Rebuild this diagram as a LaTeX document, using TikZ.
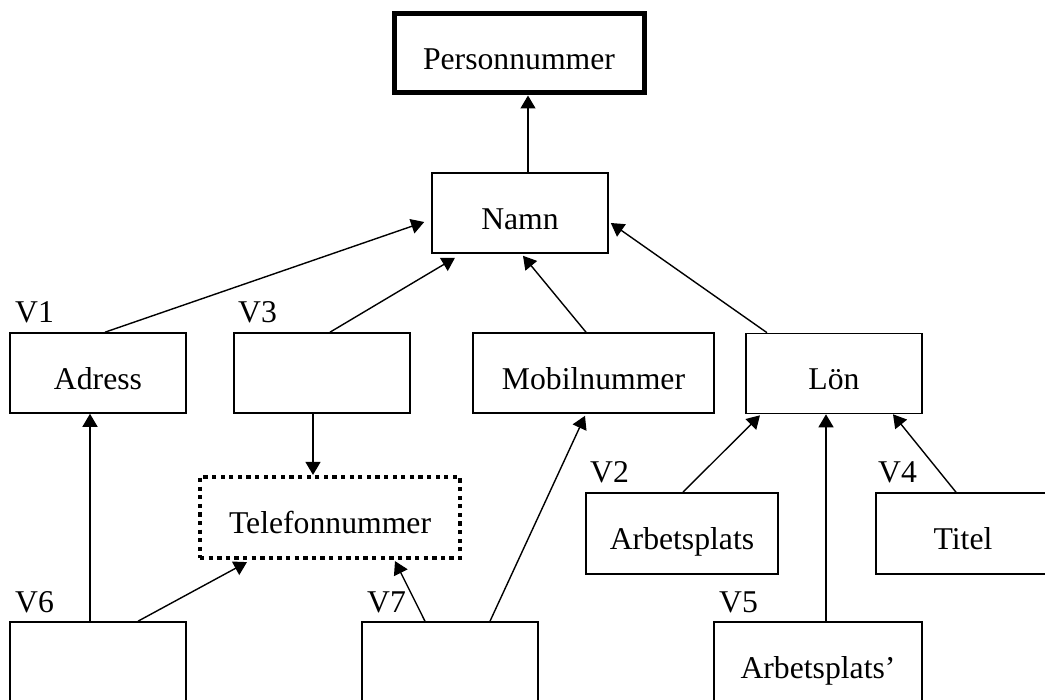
\documentclass[tikz,border=0pt]{standalone}
\usepackage{fontspec}
\setmainfont{Liberation Serif}
\usetikzlibrary{arrows.meta}
\begin{document}
\begin{tikzpicture}[x=1pt,y=-1pt,
  every node/.style={font=\fontsize{31.7}{38}\selectfont},
  box/.style={draw,line width=1.6pt,inner sep=0pt,text height=33pt,text depth=0pt,
    minimum height=80pt},
  keybox/.style={box,line width=5pt},
  dotbox/.style={box,line width=4.2pt,dash pattern=on 4.3pt off 4.3pt},
  vlabel/.style={anchor=base west,inner sep=0pt},
  arr/.style={line width=1.4pt,-{Triangle[length=13pt,width=15pt]}}]
\useasboundingbox (0,0) rectangle (1045,700);
\fill[white] (0,0) rectangle (1045,700);
\clip (0,0) rectangle (1045,700);

% attribute boxes
\node[keybox,minimum width=250pt,minimum height=79pt] (pnr) at (519,53.5) {Personnummer};
\node[box,minimum width=176pt] (namn) at (520,213) {Namn};
\node[box,minimum width=176pt] (adress) at (98,373) {Adress};
\node[box,minimum width=176pt] (v3) at (322,373) {};
\node[box,minimum width=241pt] (mobil) at (593.5,373) {Mobilnummer};
\node[box,minimum width=176pt] (lon) at (834,373.5) {Lön};
\node[dotbox,minimum width=260pt,minimum height=81pt] (tel) at (330,517.5) {Telefonnummer};
\node[box,minimum width=192pt,minimum height=81pt] (arb) at (682,533.5) {Arbetsplats};
\node[box,minimum width=174pt,minimum height=81pt] (titel) at (963,533.5) {Titel};
\node[box,minimum width=176pt] (v6) at (98,662) {};
\node[box,minimum width=176pt] (v7) at (450,662) {};
\node[box,minimum width=208pt] (arbp) at (818,662) {Arbetsplats’};

% labels
\node[vlabel] (l1) at (15,323) {V1};
\node[vlabel] (l3) at (238,323) {V3};
\node[vlabel] (l2) at (590,483) {V2};
\node[vlabel] (l4) at (878,483) {V4};
\node[vlabel] (l5) at (719,612) {V5};
\node[vlabel] (l6) at (15,612) {V6};
\node[vlabel] (l7) at (367,612) {V7};

% dependencies
\draw[arr] ([shift={(8,0)}]namn.north) -- ([shift={(9,0)}]pnr.south);
\draw[arr] ([shift={(7,0)}]adress.north) -- ([shift={(-7,9)}]namn.west);
\draw[arr] ([shift={(8,0)}]v3.north) -- ([shift={(-65,4)}]namn.south);
\draw[arr] ([shift={(-7.5,0)}]mobil.north) -- ([shift={(3,2)}]namn.south);
\draw[arr] ([shift={(-67,0)}]lon.north) -- ([shift={(2,10)}]namn.east);
\draw[arr] ([shift={(-9,0)}]v3.south) -- ([shift={(-17,0)}]tel.north);
\draw[arr] ([shift={(-8,0)}]v6.north) -- ([shift={(-8,0)}]adress.south);
\draw[arr] ([shift={(40,0)}]v6.north) -- ([shift={(-83,2)}]tel.south);
\draw[arr] ([shift={(-25,0)}]v7.north) -- ([shift={(65,1)}]tel.south);
\draw[arr] ([shift={(40,0)}]v7.north) -- ([shift={(-8.5,2)}]mobil.south);
\draw[arr] ([shift={(1,0)}]arb.north) -- ([shift={(-74,1)}]lon.south);
\draw[arr] ([shift={(8,0)}]arbp.north) -- ([shift={(-8,0)}]lon.south);
\draw[arr] ([shift={(-7,0)}]titel.north) -- ([shift={(59,0)}]lon.south);
\end{tikzpicture}
\end{document}
